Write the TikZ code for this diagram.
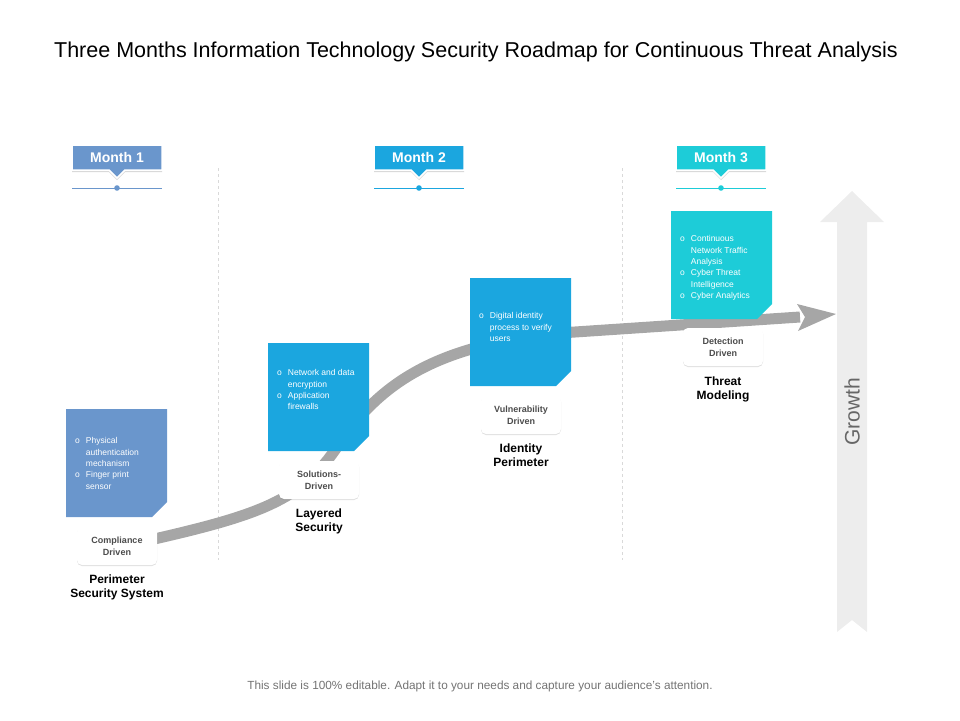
\documentclass[tikz,border=0pt]{standalone}
\usepackage{fontspec}
\usepackage{array}
\setmainfont{Liberation Sans}
\usetikzlibrary{shadows,calc}
\definecolor{mA}{HTML}{6A96CC}
\definecolor{mB}{HTML}{1BA6DF}
\definecolor{mC}{HTML}{1DCCD8}
\definecolor{arrgray}{HTML}{A6A6A6}
\definecolor{growgray}{HTML}{EDEDED}
\tikzset{
 monthtxt/.style={text=white,font=\bfseries\fontsize{14}{15}\selectfont},
 monthshape/.style={draw=white,line width=1.5pt,drop shadow={opacity=0.3,shadow xshift=0pt,shadow yshift=-2pt}},
 lblbox/.style={fill=white,rounded corners=5pt,minimum width=80pt,minimum height=38pt,align=center,font=\bfseries\fontsize{9}{12}\selectfont,text=black!70,drop shadow={opacity=0.25,shadow xshift=0pt,shadow yshift=-1pt}},
 ttl/.style={align=center,font=\bfseries\fontsize{12}{14}\selectfont},
 cardtxt/.style={anchor=north west,text=white,font=\fontsize{8.5}{11.5}\selectfont,inner sep=0pt},
 dashln/.style={draw=black!15,dashed,line width=0.6pt},
}
\newcommand{\bitems}[1]{{\renewcommand{\arraystretch}{0.95}\begin{tabular}{@{}l@{\hspace{6pt}}>{\raggedright\arraybackslash}p{70pt}@{}}#1\end{tabular}}}
\newcommand{\card}[4]{% x, y, color, name
 \fill[#3] (#1,#2) -- ++(101,0) -- ++(0,93) -- ++(-15,15) -- ++(-86,0) -- cycle;
 \coordinate (#4) at (#1,#2);}
\begin{document}
\begin{tikzpicture}[x=1pt,y=-1pt]
\useasboundingbox (0,0) rectangle (960,720);
\node (title) at (476,52) {\fontsize{21.5}{24}\selectfont Three Months Information Technology Security Roadmap for Continuous Threat Analysis};
\node (foot) at (480,686) {\color{black!55}\fontsize{11.8}{13}\selectfont This slide is 100\% editable. Adapt it to your needs and capture your audience's attention.};
% dashed lines
\coordinate (d1a) at (218,168); \coordinate (d1b) at (218,560);
\coordinate (d2a) at (622,168); \coordinate (d2b) at (622,560);
\draw[dashln] (d1a) -- (d1b);
\draw[dashln] (d2a) -- (d2b);
% growth arrow
\fill[growgray] (837,632) -- (837,222) -- (820,222) -- (852,191) -- (884,222) -- (867,222) -- (867,632) -- (852,620) -- cycle;
\node[rotate=90,text=black!60] (growth) at (852,412) {\fontsize{21}{22}\selectfont Growth};
% months
\foreach \x/\c/\n in {117/mA/1,419/mB/2,721/mC/3}{
 \filldraw[monthshape,fill=\c] (\x-45,145) -- (\x+45,145) -- (\x+45,170) -- (\x+8,170) -- (\x,178) -- (\x-8,170) -- (\x-45,170) -- cycle;
 \node[monthtxt] (m\n) at (\x,157.5) {Month \n};
 \coordinate (la\n) at (\x-45,188); \coordinate (lb\n) at (\x+45,188); \coordinate (dot\n) at (\x,188);
 \draw[\c,line width=0.6pt] (la\n) -- (lb\n);
 \fill[\c] (dot\n) circle (2.8);
}
% main curve arrow
\coordinate (cs) at (150,540);
\coordinate (ce) at (838,314);
\draw[arrgray,line width=11pt] (cs) .. controls (260,515) and (300,500) .. (335,450)
  .. controls (380,380) and (440,345) .. (560,333) -- (800,317);
\fill[arrgray] (797,304) -- (836,314) -- (798,331) -- (805,317) -- cycle;
% cards
\card{66}{409}{mA}{c1}
\card{268}{343}{mB}{c2}
\card{470}{278}{mB}{c3}
\card{671}{211}{mC}{c4}
\node[cardtxt] (t1) at (75,436) {\bitems{o & Physical authentication mechanism\\ o & Finger print sensor}};
\node[cardtxt] (t2) at (277,368) {\bitems{o & Network and data encryption\\ o & Application firewalls}};
\node[cardtxt] (t3) at (479,311) {\bitems{o & Digital identity process to verify users}};
\node[cardtxt] (t4) at (680,234) {\bitems{o & Continuous Network Traffic Analysis\\ o & Cyber Threat Intelligence\\ o & Cyber Analytics}};
% label boxes
\node[lblbox] (b1) at (117,546) {Compliance\\Driven};
\node[lblbox] (b2) at (319,480) {Solutions-\\Driven};
\node[lblbox] (b3) at (521,415) {Vulnerability\\Driven};
\node[lblbox] (b4) at (723,347) {Detection\\Driven};
\node[ttl] (n1) at (117,587) {Perimeter\\Security System};
\node[ttl] (n2) at (319,521) {Layered\\Security};
\node[ttl] (n3) at (521,455) {Identity\\Perimeter};
\node[ttl] (n4) at (723,389) {Threat\\Modeling};
\end{tikzpicture}
\end{document}
